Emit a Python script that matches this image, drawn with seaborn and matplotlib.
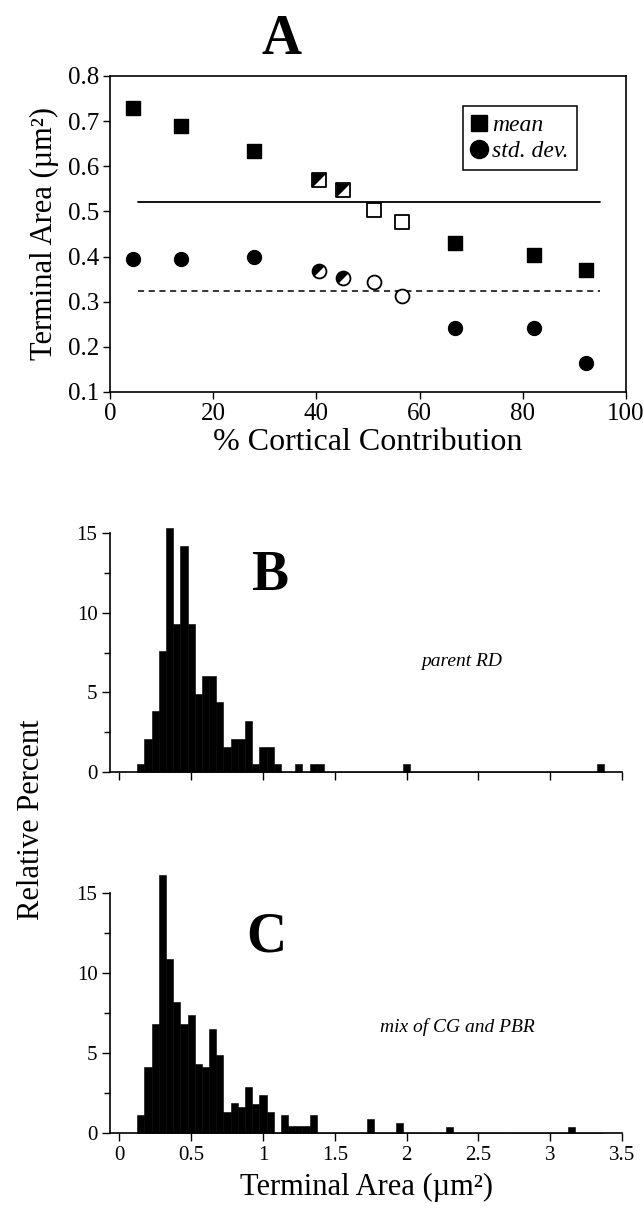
import numpy as np
import pandas as pd
import matplotlib
matplotlib.use("Agg")
import matplotlib.pyplot as plt
from matplotlib.lines import Line2D
import seaborn as sns

# Panel A: terminal size vs cortical contribution
cortical = [4.5, 13.8, 28.0, 40.6, 45.1, 51.1, 56.5, 66.9, 82.2, 92.2]
mean_area = [0.730, 0.689, 0.634, 0.569, 0.548, 0.503, 0.476, 0.431, 0.404, 0.370]
sd_area = [0.395, 0.395, 0.400, 0.369, 0.353, 0.344, 0.313, 0.241, 0.241, 0.165]
fill_kind = ["full", "full", "full", "half", "half", "open", "open", "full", "full", "full"]
overall_mean = 0.52
overall_sd = 0.323
ref_span = [5.5, 95.0]

# Panel B: parent RD histogram (bin centre, relative percent)
rd_bins = [0.15, 0.20, 0.25, 0.30, 0.35, 0.40, 0.45, 0.50, 0.55, 0.60, 0.65, 0.70,
           0.75, 0.80, 0.85, 0.90, 0.95, 1.00, 1.05, 1.10, 1.25, 1.35, 1.40, 2.00, 3.35]
rd_pct = [0.5, 2.1, 3.8, 7.6, 15.3, 9.3, 14.2, 9.3, 4.9, 6.0, 6.0, 4.4,
          1.6, 2.1, 2.1, 3.2, 0.5, 1.6, 1.6, 0.5, 0.5, 0.5, 0.5, 0.5, 0.5]

# Panel C: mix of CG and PBR histogram
mix_bins = [0.15, 0.20, 0.25, 0.30, 0.35, 0.40, 0.45, 0.50, 0.55, 0.60, 0.65, 0.70,
            0.75, 0.80, 0.85, 0.90, 0.95, 1.00, 1.05, 1.15, 1.20, 1.25, 1.30, 1.35,
            1.75, 1.95, 2.30, 3.15]
mix_pct = [1.1, 4.1, 6.8, 16.1, 10.9, 8.2, 6.8, 7.35, 4.3, 4.1, 6.5, 4.85,
           1.3, 1.9, 1.6, 2.9, 1.8, 2.4, 1.3, 1.1, 0.45, 0.45, 0.45, 1.1,
           0.9, 0.6, 0.4, 0.4]

sns.set_style("ticks")
plt.rcParams["font.family"] = ["Liberation Serif", "DejaVu Serif"]
plt.rcParams["axes.linewidth"] = 1.2
for k in ["text.color", "axes.labelcolor", "xtick.color", "ytick.color", "axes.edgecolor"]:
    plt.rcParams[k] = "black"

W, H = 643, 1215
fig = plt.figure(figsize=(W / 100, H / 100), dpi=100)
axA = fig.add_axes([110 / W, 1 - 392 / H, 516 / W, 316 / H])
axB = fig.add_axes([110 / W, 1 - 772 / H, 512 / W, 239 / H])
axC = fig.add_axes([110 / W, 1 - 1133 / H, 512 / W, 240 / H])

# ---- panel A
dfA = pd.DataFrame({"x": cortical, "mean": mean_area, "sd": sd_area, "kind": fill_kind})
# upper-left halves for the mixed points
sq_tri = [(-1, -1), (-1, 1), (1, 1), (-1, -1)]
ang = np.linspace(np.pi / 4, np.pi * 5 / 4, 40)
half_circ = [(np.cos(a), np.sin(a)) for a in ang] + [(np.cos(ang[0]), np.sin(ang[0]))]
ms = 100

sns.lineplot(x=ref_span, y=[overall_mean] * 2, color="black", lw=1.3, ax=axA)
sns.lineplot(x=ref_span, y=[overall_sd] * 2, color="black", lw=1.1, ls=(0, (4, 3)), ax=axA)

for col, mk, tri in [("mean", "s", sq_tri), ("sd", "o", half_circ)]:
    full = dfA[dfA.kind == "full"]
    other = dfA[dfA.kind != "full"]
    sns.scatterplot(data=full, x="x", y=col, marker=mk, s=ms, color="black",
                    edgecolor="black", linewidth=1, ax=axA, zorder=3)
    sns.scatterplot(data=other, x="x", y=col, marker=mk, s=ms, color="white",
                    edgecolor="black", linewidth=1.3, ax=axA, zorder=3)
    sns.scatterplot(data=dfA[dfA.kind == "half"], x="x", y=col, marker=tri, s=ms,
                    color="black", linewidth=0, ax=axA, zorder=4)

axA.set_xlim(0, 100)
axA.set_ylim(0.1, 0.8)
axA.set_xticks(range(0, 101, 20))
axA.set_yticks(np.arange(0.1, 0.81, 0.1))
axA.yaxis.set_major_formatter(matplotlib.ticker.FormatStrFormatter("%.1f"))
axA.tick_params(direction="out", length=5, width=1, labelsize=18, pad=3)
axA.set_xlabel("% Cortical Contribution", fontsize=23, labelpad=2)
axA.set_ylabel("Terminal Area (µm²)", fontsize=22, labelpad=6)
for s in axA.spines.values():
    s.set_visible(True)
    s.set_color("black")

handles = [Line2D([], [], marker="s", color="black", ls="none", markersize=12),
           Line2D([], [], marker="o", color="black", ls="none", markersize=13)]
leg = axA.legend(handles, ["mean", "std. dev."], loc="upper left",
                 bbox_to_anchor=(0.684, 0.905), borderaxespad=0,
                 prop={"style": "italic", "size": 17}, frameon=True, fancybox=False,
                 edgecolor="black", framealpha=1, handlelength=0.7, handletextpad=0.2,
                 borderpad=0.35, labelspacing=0.2)
leg.get_frame().set_linewidth(1.1)

fig.text(282 / W, 1 - 40 / H, "A", fontsize=40, fontweight="bold", ha="center", va="center")

# ---- panels B and C
edges = [round(0.125 + 0.05 * i, 3) for i in range(66)]
for ax, centers, pct in [(axB, rd_bins, rd_pct), (axC, mix_bins, mix_pct)]:
    dfh = pd.DataFrame({"area": centers, "pct": pct})
    sns.histplot(data=dfh, x="area", weights="pct", bins=edges, color="black", alpha=1,
                 edgecolor="black", linewidth=0.4, ax=ax)
    for p in ax.patches:
        p.set_clip_on(False)
    ax.set_xlim(-0.065, 3.5)
    ax.set_ylim(0, 15)
    ax.set_xticks(np.arange(0, 3.51, 0.5))
    ax.set_yticks([0, 5, 10, 15])
    ax.set_yticks([2.5, 7.5, 12.5], minor=True)
    ax.tick_params(which="major", direction="out", length=6, width=1, labelsize=15, pad=3)
    ax.tick_params(which="minor", direction="out", length=4, width=1)
    ax.set_ylabel("")
    ax.set_xlabel("")
    sns.despine(ax=ax)

axB.tick_params(axis="x", labelbottom=False)
axC.xaxis.set_major_formatter(matplotlib.ticker.FormatStrFormatter("%g"))
axC.set_xlabel("Terminal Area (µm²)", fontsize=22, labelpad=6)

fig.text(270 / W, 1 - 576 / H, "B", fontsize=40, fontweight="bold", ha="center", va="center")
fig.text(266 / W, 1 - 937 / H, "C", fontsize=40, fontweight="bold", ha="center", va="center")
fig.text(462 / W, 1 - 662 / H, "parent RD", fontsize=14, style="italic", ha="center", va="center")
fig.text(457 / W, 1 - 1027 / H, "mix of CG and PBR", fontsize=14, style="italic",
         ha="center", va="center")
fig.text(32 / W, 1 - 820 / H, "Relative Percent", fontsize=22, rotation=90,
         ha="center", va="center")

fig.savefig("out.png", dpi=100)
